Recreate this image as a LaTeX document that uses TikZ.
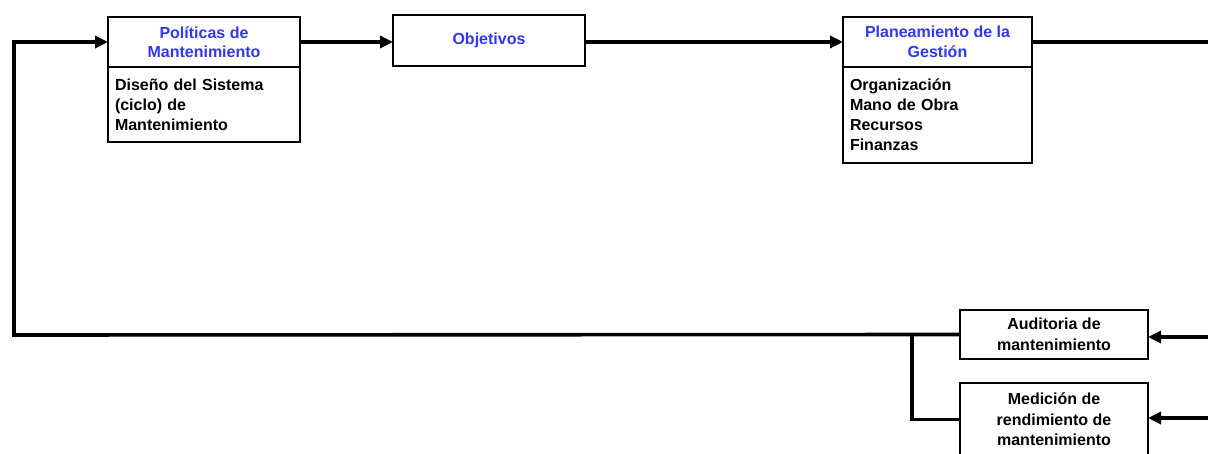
\documentclass[tikz,border=0pt]{standalone}
\usepackage{fontspec}
\setmainfont{Liberation Sans}
\usetikzlibrary{arrows.meta}
\definecolor{headblue}{RGB}{50,55,240}
\begin{document}
\begin{tikzpicture}[x=1pt,y=1pt,
  frame/.style={draw, line width=2.8pt, inner sep=0pt, outer sep=0pt},
  head/.style={frame, minimum height=50, text=headblue, align=center,
    font=\bfseries\fontsize{16}{19.5}\selectfont},
  body/.style={frame, anchor=north, align=left,
    font=\bfseries\fontsize{16}{20}\selectfont},
  ctrlbox/.style={frame, align=center, font=\bfseries\fontsize{16}{20.5}\selectfont},
  link/.style={line width=3.6pt},
  arr/.style={link, -{Triangle[length=13pt,width=12pt]}}]
\useasboundingbox (0,0) rectangle (1208,453);
\fill[white] (0,0) rectangle (1208,453);

% policy box
\node[head, minimum width=192] (pol) at (204,411) {Políticas de\\Mantenimiento};
\node[body, minimum width=192, minimum height=75, text width=178] (polb) at (pol.south)
  {Diseño del Sistema\\(ciclo) de\\Mantenimiento};

% objectives
\node[head, minimum width=192, minimum height=51] (obj) at (489,412.5) {Objetivos};

% management planning
\node[head, minimum width=189] (plan) at (937.5,411) {Planeamiento de la\\Gestión};
\node[body, minimum width=189, minimum height=96, text width=175] (planb) at (plan.south)
  {Organización\\Mano de Obra\\Recursos\\Finanzas};

% control boxes
\node[ctrlbox, minimum width=188, minimum height=49] (aud) at (1054,118.5)
  {Auditoria de\\mantenimiento};
\node[ctrlbox, minimum width=188, minimum height=73] (med) at (1054,33.5)
  {Medición de\\rendimiento de\\mantenimiento};

% connector ends at the page edge
\coordinate (out) at (1208,411);
\coordinate (inA) at (1208,116);
\coordinate (inM) at (1208,35);
\coordinate (loopBL) at (14,118);
\coordinate (loopTL) at (14,411);
\coordinate (split) at (912,118);

% forward flow
\draw[arr] (pol.east) -- (obj.west |- pol.east);
\draw[arr] (obj.east |- pol.east) -- (plan.west);
\draw[link] (plan.east) -- (out);

% inputs to control boxes
\draw[arr] (inA) -- (aud.east |- inA);
\draw[arr] (inM) -- (med.east |- inM);

% feedback loop
\draw[arr, line join=miter] (aud.west) -- (loopBL) -- (loopTL) -- (pol.west);
\draw[link, line join=miter] (split) -- (split |- med.west) -- (med.west);
\end{tikzpicture}
\end{document}
